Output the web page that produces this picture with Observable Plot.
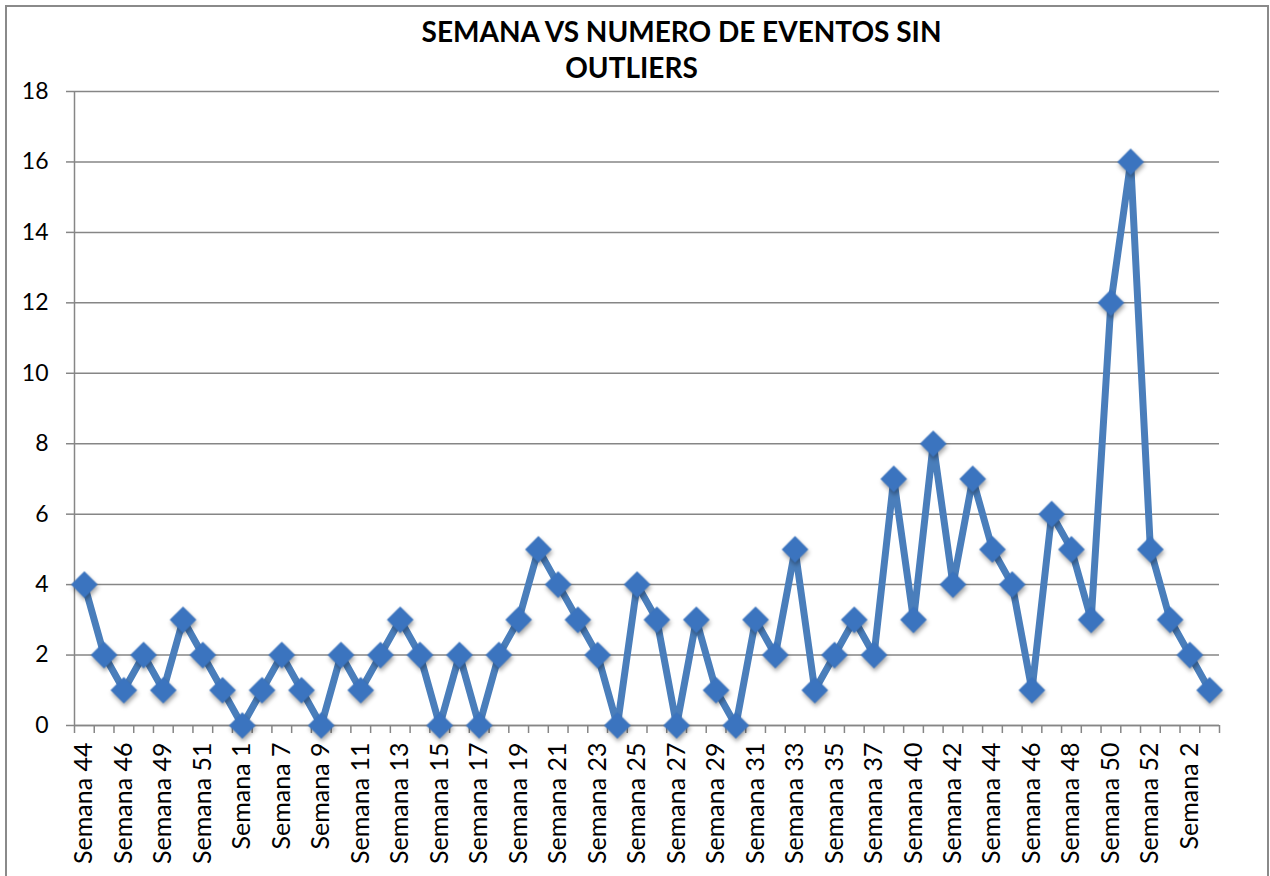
<!DOCTYPE html>
<html><head><meta charset="utf-8">
<script src="https://cdn.jsdelivr.net/npm/d3@7"></script>
<script src="https://cdn.jsdelivr.net/npm/@observablehq/plot@0.6"></script>
<style>
body{margin:0;background:#fff;}
#wrap{position:relative;width:1270px;height:876px;overflow:hidden;background:#fff;}
#border{position:absolute;left:5px;top:5px;width:1264px;height:900px;border:2px solid #8a8a8a;box-sizing:border-box;}
#chart{position:absolute;left:0;top:0;}
g[aria-label="dot"]{filter:drop-shadow(1px 3px 2px rgba(0,0,0,0.35));}
</style></head><body>
<div id="wrap"><div id="border"></div><div id="chart"></div></div>
<script>
const weeks = ["Semana 44","Semana 45","Semana 46","Semana 47","Semana 49","Semana 50","Semana 51","Semana 52",
  "Semana 1","Semana 5","Semana 7","Semana 8","Semana 9","Semana 10","Semana 11","Semana 12","Semana 13","Semana 14",
  "Semana 15","Semana 16","Semana 17","Semana 18","Semana 19","Semana 20","Semana 21","Semana 22","Semana 23","Semana 24",
  "Semana 25","Semana 26","Semana 27","Semana 28","Semana 29","Semana 30","Semana 31","Semana 32","Semana 33","Semana 34",
  "Semana 35","Semana 36","Semana 37","Semana 38","Semana 40","Semana 41","Semana 42","Semana 43","Semana 44","Semana 45",
  "Semana 46","Semana 47","Semana 48","Semana 49","Semana 50","Semana 51","Semana 52","Semana 1","Semana 2","Semana 3"];
const events = [4,2,1,2,1,3,2,1,0,1, 2,1,0,2,1,2,3,2,0,2, 0,2,3,5,4,3,2,0,4,3,
  0,3,1,0,3,2,5,1,2,3, 2,7,3,8,4,7,5,4,1,6, 5,3,12,16,5,3,2,1];
const yTicks = [0,2,4,6,8,10,12,14,16,18];
const titleLines = ["SEMANA VS NUMERO DE EVENTOS SIN", "OUTLIERS"];

const data = events.map((v, i) => ({i, week: weeks[i], v}));
const labelIdx = weeks.map((_, i) => i).filter(i => i % 2 === 0);
const bounds = d3.range(-0.5, weeks.length, 1);
const grid = "#868686";

const chart = Plot.plot({
  width: 1270, height: 876,
  marginTop: 91, marginBottom: 151, marginLeft: 74, marginRight: 51,
  style: {fontFamily: "Lato, 'Open Sans', sans-serif", background: "transparent", color: "black"},
  x: {type: "linear", domain: [-0.5, weeks.length - 0.5], label: null},
  y: {domain: [0, 18], label: null},
  marks: [
    Plot.gridY(yTicks, {stroke: grid, strokeOpacity: 1, strokeWidth: 1.5}),
    Plot.axisY(yTicks, {tickSize: 8, tickPadding: 18, fontSize: 23, stroke: grid, strokeWidth: 1.5, fill: "black", label: null, tickFormat: d => String(d)}),
    Plot.ruleX([-0.5], {stroke: grid, strokeWidth: 1.5}),
    Plot.ruleY([0], {stroke: grid, strokeWidth: 1.5}),
    Plot.axisX(bounds, {tickSize: 8, tickFormat: () => "", stroke: grid, strokeWidth: 1.5, label: null}),
    Plot.axisX(labelIdx, {tickSize: 0, tickPadding: 17, tickRotate: -90, fontSize: 25, fill: "black", label: null, tickFormat: i => weeks[i]}),
    Plot.line(data, {x: "i", y: "v", stroke: "#4a7ebb", strokeWidth: 7, strokeLinejoin: "round"}),
    Plot.dot(data, {x: "i", y: "v", symbol: "diamond2", r: 12, fill: "#3b74bf", stroke: "none"}),
    Plot.text([titleLines[0]], {frameAnchor: "top-left", dx: 681 - 74, dy: 33 - 91, text: d => d, textAnchor: "middle", lineAnchor: "middle", fontSize: 28, fontWeight: "bold", fill: "black"}),
    Plot.text([titleLines[1]], {frameAnchor: "top-left", dx: 631 - 74, dy: 69 - 91, text: d => d, textAnchor: "middle", lineAnchor: "middle", fontSize: 28, fontWeight: "bold", fill: "black"})
  ]
});
document.getElementById("chart").appendChild(chart);
</script>
</body></html>
